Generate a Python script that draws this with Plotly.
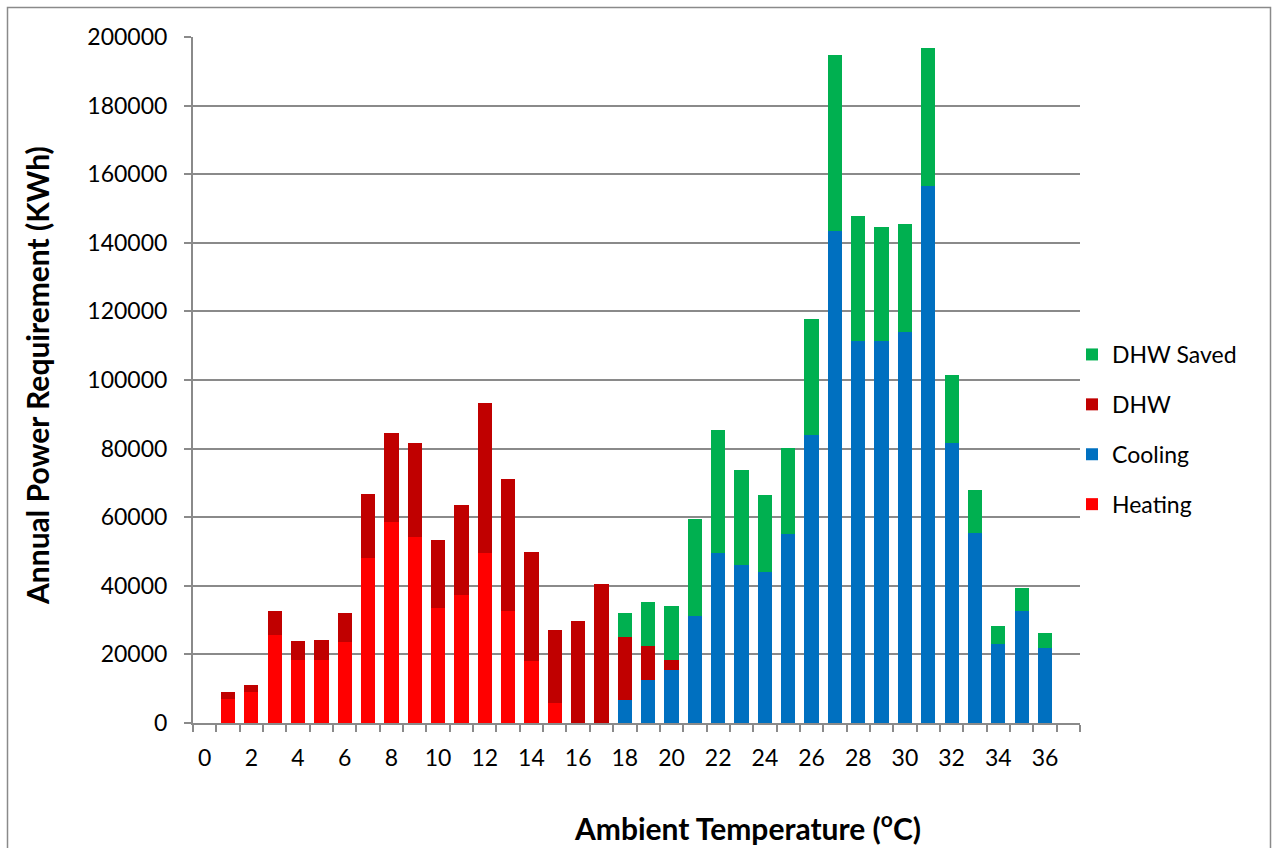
import plotly.graph_objects as go

# Ambient temperature bins (°C); bin 37 is an empty slot at the end of the axis
temps = list(range(0, 38))

heating = [0, 7100, 8900, 25800, 18500, 18500, 23700, 48200, 58700, 54100,
           33600, 37400, 49700, 32800, 18000, 5900, 0, 0, 0, 0,
           0, 0, 0, 0, 0, 0, 0, 0, 0, 0,
           0, 0, 0, 0, 0, 0, 0, 0]
cooling = [0, 0, 0, 0, 0, 0, 0, 0, 0, 0,
           0, 0, 0, 0, 0, 0, 0, 0, 6800, 12400,
           15400, 31200, 49600, 46100, 44000, 55100, 84100, 143300, 111500, 111300,
           114000, 156700, 81700, 55400, 23100, 32800, 21900, 0]
dhw = [0, 1800, 2300, 6900, 5300, 5700, 8500, 18700, 25800, 27400,
       19800, 26300, 43700, 38300, 31800, 21300, 29700, 40600, 18300, 10000,
       3000, 0, 0, 0, 0, 0, 0, 0, 0, 0,
       0, 0, 0, 0, 0, 0, 0, 0]
dhw_saved = [0, 0, 0, 0, 0, 0, 0, 0, 0, 0,
             0, 0, 0, 0, 0, 0, 0, 0, 7000, 12900,
             15700, 28400, 35800, 27800, 22600, 25000, 33600, 51400, 36300, 33300,
             31600, 40200, 19700, 12500, 5100, 6600, 4300, 0]

series_names = ["Heating", "Cooling", "DHW", "DHW Saved"]
series_values = [heating, cooling, dhw, dhw_saved]
series_colors = ["#FF0000", "#0070C0", "#C00000", "#00B050"]
legend_ranks = [4, 3, 2, 1]  # top of the stack listed first

x_tick_vals = list(range(0, 37, 2))
y_tick_vals = list(range(0, 200001, 20000))

FONT = "Lato"
GRID = "#8A8A8A"

fig = go.Figure()
for name, vals, col, rank in zip(series_names, series_values, series_colors, legend_ranks):
    fig.add_trace(go.Bar(
        x=temps, y=vals, name=name, marker_color=col,
        marker_line_width=0, legendgroup=name, legendrank=rank,
    ))

# plot area in pixels: left 193, right 1080, top 37, bottom 723
W, H = 1278, 848
L, R, T, B = 193, 1080, 37, 723
pw, ph = R - L, B - T

def px(x):
    return (x - L) / pw

def py(y):
    return (B - y) / ph

fig.update_layout(
    width=W, height=H,
    margin=dict(l=L, r=W - R, t=T, b=H - B, autoexpand=False),
    paper_bgcolor="white", plot_bgcolor="white",
    barmode="stack", bargap=0.39,
    font=dict(family=FONT, size=23, color="black"),
    showlegend=True,
    legend=dict(
        traceorder="grouped", tracegroupgap=17,
        x=px(1072), xanchor="left", y=py(333), yanchor="top",
        font=dict(family=FONT, size=23, color="black"),
        bgcolor="rgba(0,0,0,0)",
    ),
    xaxis=dict(
        range=[-0.5, 37.5], tickmode="array", tickvals=x_tick_vals,
        ticks="", showgrid=False, zeroline=False,
        showline=True, linecolor=GRID, linewidth=2,
        ticklabelstandoff=13,
        tickfont=dict(family=FONT, size=23, color="black"),
        minor=dict(tickmode="linear", tick0=-0.5, dtick=1, ticks="outside",
                   ticklen=7, tickwidth=1.5, tickcolor=GRID, showgrid=False),
    ),
    yaxis=dict(
        range=[0, 200000], tickmode="array", tickvals=y_tick_vals,
        tickformat="d",
        ticks="outside", ticklen=7, tickwidth=1.5, tickcolor=GRID,
        showgrid=True, gridcolor=GRID, gridwidth=2,
        zeroline=False, showline=True, linecolor=GRID, linewidth=2,
        ticklabelstandoff=12,
        tickfont=dict(family=FONT, size=23, color="black"),
    ),
    annotations=[
        dict(text="Annual Power Requirement (KWh)", textangle=-90,
             xref="paper", yref="paper", x=px(37), y=py(376),
             xanchor="center", yanchor="middle", showarrow=False,
             font=dict(family=FONT, size=30, color="black", weight="bold")),
        dict(text="Ambient Temperature (<sup>o</sup>C)",
             xref="paper", yref="paper", x=px(747), y=py(826),
             xanchor="center", yanchor="middle", showarrow=False,
             font=dict(family=FONT, size=30, color="black", weight="bold")),
    ],
    shapes=[
        dict(type="rect", xref="paper", yref="paper",
             x0=px(7.5), x1=px(1270.5), y0=py(870), y1=py(7.5),
             line=dict(color=GRID, width=1.5), layer="below"),
    ],
)

fig.write_html("out.html")
